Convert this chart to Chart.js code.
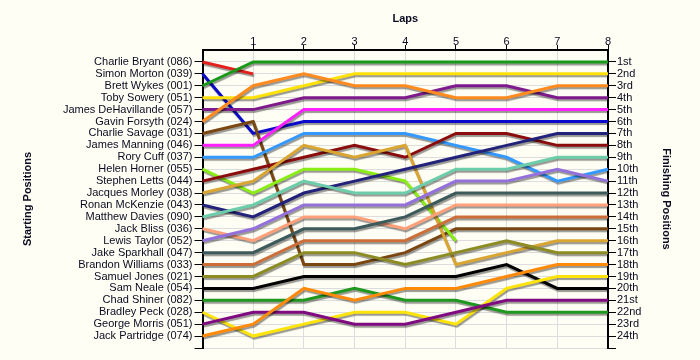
<!DOCTYPE html>
<html>
<head>
<meta charset="utf-8">
<script src="https://cdn.jsdelivr.net/npm/chart.js@4/dist/chart.umd.min.js"></script>
<style>
    body { margin: 0; background: #FEFEF4; }
    canvas { display: block; }
</style>
</head>
<body>
<canvas id="canvas" width="700" height="360"></canvas>
<script>
const laps = [0, 1, 2, 3, 4, 5, 6, 7, 8];
const lapLabels = ['', '1', '2', '3', '4', '5', '6', '7', '8'];

const drivers = [
    'Charlie Bryant (086)', 'Simon Morton (039)', 'Brett Wykes (001)', 'Toby Sowery (051)',
    'James DeHavillande (057)', 'Gavin Forsyth (024)', 'Charlie Savage (031)', 'James Manning (046)',
    'Rory Cuff (037)', 'Helen Horner (055)', 'Stephen Letts (044)', 'Jacques Morley (038)',
    'Ronan McKenzie (043)', 'Matthew Davies (090)', 'Jack Bliss (036)', 'Lewis Taylor (052)',
    'Jake Sparkhall (047)', 'Brandon Williams (033)', 'Samuel Jones (021)', 'Sam Neale (054)',
    'Chad Shiner (082)', 'Bradley Peck (028)', 'George Morris (051)', 'Jack Partridge (074)'
];

const finishLabels = [
    '1st', '2nd', '3rd', '4th', '5th', '6th', '7th', '8th', '9th', '10th', '11th', '12th',
    '13th', '14th', '15th', '16th', '17th', '18th', '19th', '20th', '21st', '22nd', '23rd', '24th'
];

// position of each driver after each lap (lap 0 = grid), same order as drivers
const lapPositions = [
    [1, 2],
    [2, 7, 6, 6, 6, 6, 6, 6, 6],
    [3, 1, 1, 1, 1, 1, 1, 1, 1],
    [4, 4, 3, 2, 2, 2, 2, 2, 2],
    [5, 5, 4, 4, 4, 3, 3, 4, 4],
    [6, 3, 2, 3, 3, 4, 4, 3, 3],
    [7, 6, 18, 18, 17, 15, 15, 15, 15],
    [8, 8, 5, 5, 5, 5, 5, 5, 5],
    [9, 9, 7, 7, 7, 8, 9, 11, 10],
    [10, 12, 10, 10, 11, 16],
    [11, 10, 9, 8, 9, 7, 7, 8, 8],
    [12, 11, 8, 9, 8, 18, 17, 16, 16],
    [13, 14, 12, 11, 10, 9, 8, 7, 7],
    [14, 13, 11, 12, 12, 10, 10, 9, 9],
    [15, 16, 14, 14, 15, 13, 13, 13, 13],
    [16, 15, 13, 13, 13, 11, 11, 10, 11],
    [17, 17, 15, 15, 14, 12, 12, 12, 12],
    [18, 18, 16, 16, 16, 14, 14, 14, 14],
    [19, 19, 17, 17, 18, 17, 16, 17, 17],
    [20, 20, 19, 19, 19, 19, 18, 20, 20],
    [21, 21, 21, 20, 21, 21, 22, 22, 22],
    [22, 24, 23, 22, 22, 23, 20, 19, 19],
    [23, 22, 22, 23, 23, 22, 21, 21, 21],
    [24, 23, 20, 21, 20, 20, 19, 18, 18]
];

const lineColors = [
    '#E3201B', '#0A0ACC', '#179A17', '#FFE10A', '#7E1A8C', '#FF8A1E', '#7A4712', '#FF1EFF',
    '#3399FF', '#8AEE14', '#8B0C0C', '#DAA530', '#22227A', '#6CCDAA', '#FFA07A', '#9370DB',
    '#3D5A5A', '#CD6E38', '#8C8C22', '#000000', '#1E981E', '#FFE40A', '#800A80', '#FF8A0A'
];

const textColor = '#0a0a20';
const gridColor = '#DDDDDD';
Chart.defaults.font.family = '"Liberation Sans", Arial, sans-serif';
Chart.defaults.font.size = 11;
Chart.defaults.color = textColor;

const lineShadow = {
    id: 'lineShadow',
    beforeDatasetDraw(chart) {
        const ctx = chart.ctx;
        ctx.save();
        ctx.shadowColor = 'rgba(0,0,0,0.4)';
        ctx.shadowOffsetX = 1;
        ctx.shadowOffsetY = 2;
        ctx.shadowBlur = 1;
    },
    afterDatasetDraw(chart) {
        chart.ctx.restore();
    }
};

const datasets = lapPositions.map((row, i) => ({
    label: drivers[i],
    data: row.map((p, lap) => ({ x: laps[lap], y: p })),
    borderColor: lineColors[i],
    borderWidth: 3,
    pointRadius: 0,
    tension: 0,
    fill: false,
    clip: false,
    order: -i
}));

function edgeTransparent(ctx, edge, color) {
    return ctx.tick && ctx.tick.value === edge ? 'rgba(0,0,0,0)' : color;
}

const ctx = document.getElementById('canvas').getContext('2d');
const myChart = new Chart(ctx, {
    type: 'line',
    data: { datasets: datasets },
    plugins: [lineShadow],
    options: {
        responsive: false,
        animation: false,
        layout: { padding: { top: 0, left: 0, right: 0, bottom: 12 } },
        plugins: {
            legend: { display: false },
            tooltip: { enabled: false }
        },
        scales: {
            x: {
                type: 'linear',
                position: 'top',
                min: 0,
                max: 8,
                afterFit: scale => { scale.height = 50; },
                ticks: {
                    stepSize: 1,
                    padding: -4,
                    maxRotation: 0,
                    autoSkip: false,
                    callback: v => lapLabels[v]
                },
                grid: {
                    color: c => edgeTransparent(c, 0, gridColor),
                    tickColor: c => edgeTransparent(c, 0, '#000'),
                    tickLength: 5
                },
                border: { color: '#000', width: 2 },
                title: {
                    display: true,
                    text: 'Laps',
                    font: { weight: 'bold', size: 11 },
                    padding: { top: 12, bottom: 0 }
                }
            },
            y: {
                type: 'linear',
                position: 'left',
                reverse: true,
                min: 0,
                max: 25,
                afterFit: scale => { scale.width = 202.5; },
                ticks: {
                    stepSize: 1,
                    padding: 2,
                    autoSkip: false,
                    callback: v => drivers[v - 1] || ''
                },
                grid: {
                    color: c => edgeTransparent(c, 0, gridColor),
                    tickColor: c => edgeTransparent(c, 0, '#000'),
                    tickLength: 8
                },
                border: { color: '#000', width: 2 },
                title: {
                    display: true,
                    text: 'Starting Positions',
                    font: { weight: 'bold', size: 11 },
                    padding: { top: 21, bottom: 0 }
                }
            },
            y2: {
                type: 'linear',
                position: 'right',
                reverse: true,
                min: 0,
                max: 25,
                afterFit: scale => { scale.width = 92; },
                ticks: {
                    stepSize: 1,
                    padding: 1,
                    autoSkip: false,
                    callback: v => finishLabels[v - 1] || ''
                },
                grid: {
                    drawOnChartArea: false,
                    tickColor: c => edgeTransparent(c, 0, '#000'),
                    tickLength: 8
                },
                border: { color: '#000', width: 2 },
                title: {
                    display: true,
                    text: 'Finishing Positions',
                    font: { weight: 'bold', size: 11 },
                    padding: { top: 27, bottom: 0 }
                }
            }
        }
    }
});
</script>
</body>
</html>
